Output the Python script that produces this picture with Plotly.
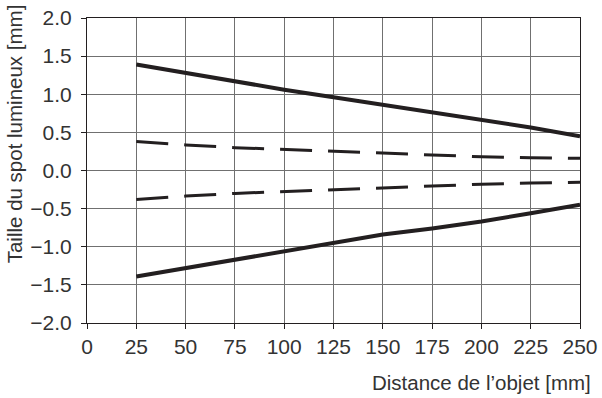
import plotly.graph_objects as go

distance = [25, 50, 75, 100, 125, 150, 175, 200, 225, 250]
solid_upper = [1.39, 1.28, 1.16, 1.06, 0.96, 0.86, 0.77, 0.67, 0.565, 0.45]
solid_lower = [-1.39, -1.28, -1.17, -1.06, -0.95, -0.84, -0.76, -0.67, -0.56, -0.45]
dash_upper = [0.38, 0.335, 0.30, 0.275, 0.25, 0.225, 0.20, 0.18, 0.168, 0.16]
dash_lower = [-0.38, -0.335, -0.30, -0.275, -0.25, -0.225, -0.205, -0.18, -0.165, -0.155]

x_ticks = [0, 25, 50, 75, 100, 125, 150, 175, 200, 225, 250]
y_ticks = [-2.0, -1.5, -1.0, -0.5, 0.0, 0.5, 1.0, 1.5, 2.0]

font = "Liberation Sans, Arial, sans-serif"
ink = "#231f20"

fig = go.Figure()
for ys in (solid_upper, solid_lower):
    fig.add_trace(go.Scatter(x=distance, y=ys, mode="lines",
                             line=dict(color=ink, width=4)))
for ys in (dash_upper, dash_lower):
    fig.add_trace(go.Scatter(x=distance, y=ys, mode="lines",
                             line=dict(color=ink, width=3, dash="32px,16px")))

axis = dict(
    showgrid=True, gridcolor="#707070", gridwidth=1,
    showline=True, linecolor=ink, linewidth=1, mirror=True,
    ticks="outside", ticklen=5, tickcolor=ink,
    zeroline=False, automargin=False, ticklabeloverflow="allow",
    tickfont=dict(family=font, size=21, color="#333333"),
)
fig.update_xaxes(range=[0, 250], tickvals=x_ticks, ticklabelstandoff=0, **axis)
fig.update_yaxes(range=[-2, 2], tickvals=y_ticks, tickformat=".1f", ticklabelstandoff=5, **axis)

# titles placed by hand, like the printed datasheet
fig.add_annotation(text="Distance de l’objet [mm]", xref="paper", yref="paper",
                   x=1.026, y=-0.196, xanchor="right", yanchor="middle", showarrow=False,
                   font=dict(family=font, size=20.5, color="#333333"))
fig.add_annotation(text="Taille du spot lumineux [mm]", xref="paper", yref="paper",
                   x=-0.148, y=1.05, xanchor="center", yanchor="top", textangle=-90, showarrow=False,
                   font=dict(family=font, size=20.5, color="#333333"))

fig.update_layout(
    width=602, height=398,
    margin=dict(l=87, r=22, t=18, b=75),
    paper_bgcolor="white", plot_bgcolor="white",
    showlegend=False,
)
# page body has a default 8px margin; drop it so the figure fills the window
fig.write_html("out.html", config={"displayModeBar": False},
               post_script="document.body.style.margin = '0px';")
